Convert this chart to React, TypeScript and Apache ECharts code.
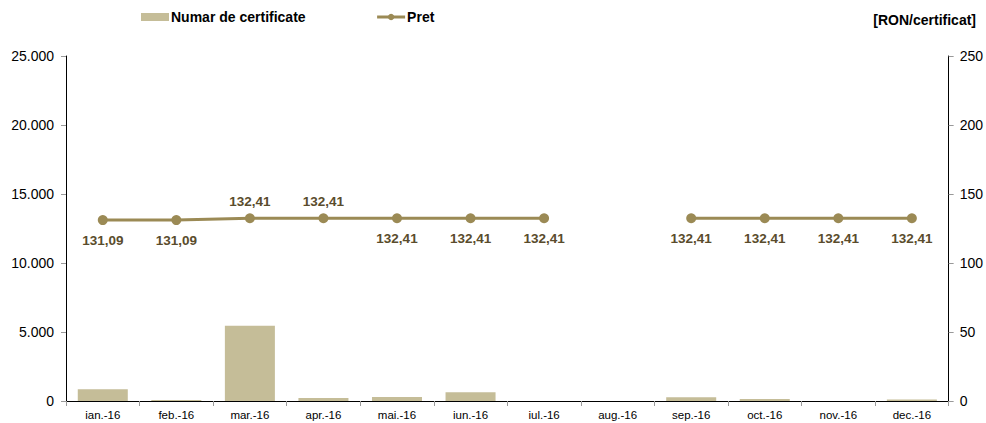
import React, { useEffect, useRef } from "react";
import * as echarts from "echarts";

const categories = ["ian.-16", "feb.-16", "mar.-16", "apr.-16", "mai.-16", "iun.-16", "iul.-16", "aug.-16", "sep.-16", "oct.-16", "nov.-16", "dec.-16"];
const certificates = [860, 70, 5450, 220, 290, 630, 0, 0, 270, 150, 0, 100];
const prices = [131.09, 131.09, 132.41, 132.41, 132.41, 132.41, 132.41, null, 132.41, 132.41, 132.41, 132.41];
const labelAbove = [false, false, true, true, false, false, false, false, false, false, false, false];
const leftTicks = [0, 5000, 10000, 15000, 20000, 25000];
const rightTicks = [0, 50, 100, 150, 200, 250];

const fmtThousands = (v: number) => String(Math.round(v)).replace(/\B(?=(\d{3})+(?!\d))/g, ".");
const fmtPrice = (v: number) => v.toFixed(2).replace(".", ",");

export default function App() {
  const ref = useRef<HTMLDivElement>(null);
  useEffect(() => {
    if (!ref.current) return;
    const chart = echarts.init(ref.current, undefined, { renderer: "svg" });
    const font = "Liberation Sans, Arial, sans-serif";
    chart.setOption({
      animation: false,
      backgroundColor: "#fff",
      textStyle: { fontFamily: font },
      legend: {
        left: 136,
        top: 5,
        itemGap: 70,
        itemWidth: 28,
        itemHeight: 8,
        textStyle: { fontFamily: font, fontWeight: "bold", fontSize: 14, color: "#000", padding: [0, 0, 0, -3] },
        data: [
          { name: "Numar de certificate", icon: "rect" },
          { name: "Pret", itemStyle: { color: "#9b8a55" }, lineStyle: { width: 3, color: "#9b8a55" } },
        ],
      },
      graphic: [
        {
          type: "text",
          right: 10,
          top: 13,
          style: { text: "[RON/certificat]", fontFamily: font, fontWeight: "bold", fontSize: 14, fill: "#000" },
        },
      ],
      grid: { left: 66, right: 36, top: 56, bottom: 22 },
      xAxis: {
        type: "category",
        data: categories,
        boundaryGap: true,
        axisLine: { lineStyle: { color: "#000", width: 1 } },
        axisTick: { show: true, length: 5, lineStyle: { color: "#999" }, alignWithLabel: false },
        axisLabel: { fontFamily: font, fontSize: 11.5, color: "#000", margin: 8 },
      },
      yAxis: [
        {
          type: "value",
          min: leftTicks[0],
          max: leftTicks[leftTicks.length - 1],
          interval: 5000,
          splitLine: { show: false },
          axisLine: { show: true, lineStyle: { color: "#000" } },
          axisTick: { show: true, length: 5, lineStyle: { color: "#999" } },
          axisLabel: { fontFamily: font, fontSize: 14, color: "#000", margin: 12, formatter: (v: number) => fmtThousands(v) },
        },
        {
          type: "value",
          min: rightTicks[0],
          max: rightTicks[rightTicks.length - 1],
          interval: 50,
          position: "right",
          splitLine: { show: false },
          axisLine: { show: true, lineStyle: { color: "#000" } },
          axisTick: { show: true, length: 5, lineStyle: { color: "#999" } },
          axisLabel: { fontFamily: font, fontSize: 14, color: "#000", margin: 11 },
        },
      ],
      series: [
        {
          name: "Numar de certificate",
          type: "bar",
          yAxisIndex: 0,
          data: certificates,
          barCategoryGap: "32%",
          itemStyle: { color: "#c5bd98" },
        },
        {
          name: "Pret",
          type: "line",
          yAxisIndex: 1,
          connectNulls: false,
          symbol: "circle",
          symbolSize: 10,
          lineStyle: { color: "#9b8a55", width: 3 },
          itemStyle: { color: "#9b8a55" },
          data: prices.map((v, i) => ({
            value: v,
            label: {
              show: v !== null,
              position: labelAbove[i] ? "top" : "bottom",
              distance: labelAbove[i] ? 5 : 8,
            },
          })),
          label: {
            show: true,
            fontFamily: font,
            fontWeight: "bold",
            fontSize: 13.5,
            color: "#5a4c2c",
            formatter: (p: any) => (p.value == null ? "" : fmtPrice(p.value)),
          },
        },
      ],
    });
    return () => chart.dispose();
  }, []);
  return <div ref={ref} style={{ position: "absolute", left: 0, top: 0, width: 986, height: 423 }} />;
}
